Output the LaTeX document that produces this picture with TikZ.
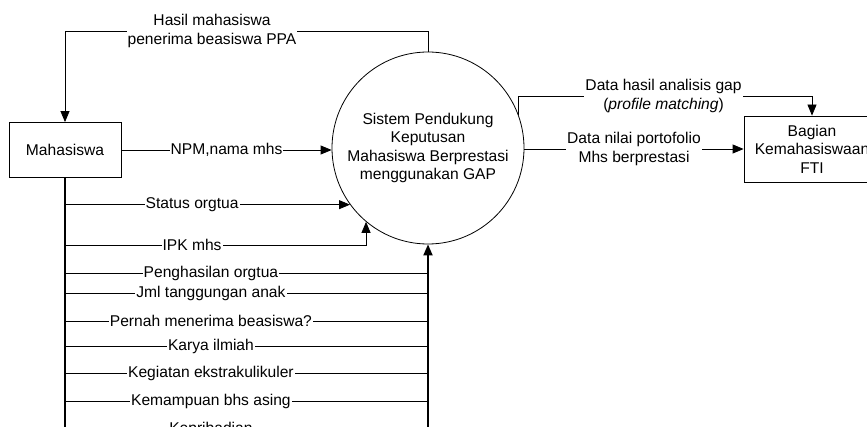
\documentclass[tikz,border=0pt]{standalone}
\usepackage{fontspec}
\setmainfont{Liberation Sans}
\usetikzlibrary{arrows.meta}

\begin{document}
\begin{tikzpicture}[x=1pt, y=-1pt, line width=0.8pt,
		font=\fontsize{15.6}{18.5}\selectfont,
		>={Triangle[length=11pt,width=9pt]},
		box/.style={draw, rectangle, inner sep=0pt, align=center},
		proc/.style={draw, circle, minimum size=192pt, inner sep=0pt, align=center},
		lbl/.style={fill=white, inner sep=1pt, align=center},
		trunk/.style={line width=1.8pt}]
		      \useasboundingbox (0,0) rectangle (867,427);
		      \clip (0,0) rectangle (867,427);
		      \node[box, minimum width=112pt, minimum height=55pt] (mhs) at (65,150) {Mahasiswa};
		      \node[proc] (sys) at (428,148) {Sistem Pendukung\\Keputusan\\Mahasiswa Berprestasi\\menggunakan GAP};
		      \node[box, minimum width=136pt, minimum height=66pt] (bag) at (812,149) {Bagian\\Kemahasiswaan\\FTI};

		      % keluaran ke mahasiswa
		      \draw[->] (sys.north) -- (sys.north |- 0,31) -- node[lbl, pos=0.595] {Hasil mahasiswa\\penerima beasiswa PPA} (mhs.north |- 0,31) -- (mhs.north);

		      % masukan dari mahasiswa
		      \draw[->] (mhs.east) -- node[lbl] {NPM,nama mhs} (mhs.east -| sys.west);
		      \draw[->] (mhs.south |- sys.216) -- node[lbl, pos=0.446] {Status orgtua} (sys.216);
		      \draw[->] (mhs.south |- 0,245) -| node[lbl, pos=0.211] {IPK mhs} (sys.230);
		      \draw (mhs.south |- 0,273) -- node[lbl, pos=0.402] {Penghasilan orgtua} (sys.south |- 0,273);
		      \draw (mhs.south |- 0,293) -- node[lbl, pos=0.402] {Jml tanggungan anak} (sys.south |- 0,293);
		      \draw (mhs.south |- 0,321) -- node[lbl, pos=0.402] {Pernah menerima beasiswa?} (sys.south |- 0,321);
		      \draw (mhs.south |- 0,346) -- node[lbl, pos=0.402] {Karya ilmiah} (sys.south |- 0,346);
		      \draw (mhs.south |- 0,373) -- node[lbl, pos=0.402] {Kegiatan ekstrakulikuler} (sys.south |- 0,373);
		      \draw (mhs.south |- 0,401) -- node[lbl, pos=0.402] {Kemampuan bhs asing} (sys.south |- 0,401);
		      \draw (mhs.south |- 0,429) -- node[lbl, pos=0.402] {Kepribadian} (sys.south |- 0,429);
		      \draw[trunk] (mhs.south) -- (mhs.south |- 0,440);
		      \draw[trunk, ->] (sys.south |- 0,440) -- (sys.south);

		      % keluaran ke bagian kemahasiswaan
		      \draw[->] (sys.20) -- (sys.20 |- 0,96) -| node[lbl, pos=0.247] {Data hasil analisis gap\\(\textit{profile matching})} (bag.north);
		      \draw[->] (sys.east |- bag.west) -- node[lbl] {Data nilai portofolio\\Mhs berprestasi} (bag.west);

	      \end{tikzpicture}
\end{document}
